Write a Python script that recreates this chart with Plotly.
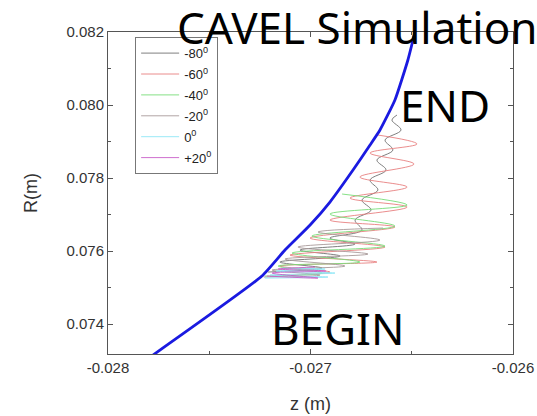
import plotly.graph_objects as go

# Blue boundary curve
blue_z = [-0.027778, -0.027240, -0.027126, -0.027002, -0.026904, -0.026790, -0.026706, -0.026657, -0.026583, -0.026519, -0.026484]
blue_R = [0.073150, 0.075315, 0.076027, 0.076712, 0.077342, 0.078219, 0.078904, 0.079315, 0.080137, 0.081233, 0.082000]

# Oscillating trajectories (turning points)
m80_z = [-0.027210, -0.026943, -0.027151, -0.026854, -0.027052, -0.026780, -0.026904, -0.026746, -0.026780, -0.026701,
         -0.026746, -0.026667, -0.026706, -0.026627, -0.026672, -0.026593, -0.026632, -0.026553, -0.026598, -0.026573]
m80_R = [0.075425, 0.075534, 0.075699, 0.075863, 0.076027, 0.076192, 0.076356, 0.076575, 0.076849, 0.077123,
         0.077397, 0.077671, 0.077945, 0.078219, 0.078493, 0.078767, 0.079041, 0.079315, 0.079589, 0.079726]

m60_z = [-0.027200, -0.026904, -0.027151, -0.026672, -0.027101, -0.026632, -0.027002, -0.026583, -0.026904,
         -0.026523, -0.026805, -0.026523, -0.026756, -0.026489, -0.026706, -0.026474, -0.026667]
m60_R = [0.075315, 0.075425, 0.075589, 0.075699, 0.075890, 0.076110, 0.076356, 0.076658, 0.076849,
         0.077205, 0.077452, 0.077753, 0.078027, 0.078384, 0.078685, 0.078932, 0.079178]

m40_z = [-0.027225, -0.026943, -0.027160, -0.026756, -0.027091, -0.026632, -0.026993, -0.026583, -0.026904, -0.026523, -0.026844]
m40_R = [0.075315, 0.075397, 0.075589, 0.075699, 0.075945, 0.076137, 0.076411, 0.076685, 0.077014, 0.077260, 0.077562]

m20_z = [-0.027230, -0.026953, -0.027190, -0.026830, -0.027126, -0.026716, -0.027062, -0.026657, -0.026963, -0.026642]
m20_R = [0.075288, 0.075342, 0.075479, 0.075589, 0.075781, 0.075918, 0.076110, 0.076301, 0.076521, 0.076630]

d0_z = [-0.027225, -0.026914, -0.027200, -0.026879, -0.027170, -0.026928, -0.027141]
d0_R = [0.075260, 0.075288, 0.075342, 0.075397, 0.075452, 0.075507, 0.075534]

p20_z = [-0.027215, -0.026963, -0.027190, -0.026923, -0.027160, -0.026978]
p20_R = [0.075315, 0.075260, 0.075397, 0.075452, 0.075507, 0.075562]

series = [
    ("-80<sup>0</sup>", m80_z, m80_R, "#707070"),
    ("-60<sup>0</sup>", m60_z, m60_R, "#e88080"),
    ("-40<sup>0</sup>", m40_z, m40_R, "#78dc78"),
    ("-20<sup>0</sup>", m20_z, m20_R, "#a89a9a"),
    ("0<sup>0</sup>", d0_z, d0_R, "#8ee6f6"),
    ("+20<sup>0</sup>", p20_z, p20_R, "#c860c8"),
]

x_ticks = [-0.028, -0.027, -0.026]
x_tick_text = ["-0.028", "-0.027", "-0.026"]
y_ticks = [0.074, 0.076, 0.078, 0.080, 0.082]
y_tick_text = ["0.074", "0.076", "0.078", "0.080", "0.082"]

fig = go.Figure()
for i, (name, z, r, c) in enumerate(series):
    fig.add_trace(go.Scatter(x=z, y=r, mode="lines", name=name, legendgroup=f"g{i}",
                             line=dict(color=c, width=0.9, shape="spline", smoothing=1.0)))
fig.add_trace(go.Scatter(x=blue_z, y=blue_R, mode="lines", showlegend=False,
                         line=dict(color="#1a1ae0", width=2.8, shape="spline", smoothing=0.45)))

tick_font = dict(family="Liberation Sans, Arial", size=15, color="#333333")
title_font = dict(family="Liberation Sans, Arial", size=18, color="#333333")
axis_common = dict(showline=True, linecolor="#555555", linewidth=1, mirror="ticks",
                   ticks="inside", ticklen=5, tickcolor="#555555", showgrid=False, zeroline=False,
                   tickfont=tick_font, automargin=False)

fig.update_layout(
    width=537, height=416,
    margin=dict(l=108, r=24, t=32, b=62, autoexpand=False),
    paper_bgcolor="white", plot_bgcolor="white",
    xaxis=dict(range=[-0.028, -0.026], tickvals=x_ticks, ticktext=x_tick_text,
               title=dict(text="z (m)", font=title_font, standoff=22),
               minor=dict(ticks="inside", ticklen=3, tickcolor="#555555", dtick=0.0005, tick0=-0.028, showgrid=False),
               **axis_common),
    yaxis=dict(range=[0.07318, 0.082], tickvals=y_ticks, ticktext=y_tick_text,
               title=dict(text="R(m)", font=title_font, standoff=24),
               minor=dict(ticks="inside", ticklen=3, tickcolor="#555555", dtick=0.001, tick0=0.073, showgrid=False),
               **axis_common),
    legend=dict(x=0.067, y=0.984, xanchor="left", yanchor="top",
                bordercolor="#777777", borderwidth=1, bgcolor="rgba(255,255,255,0)",
                font=dict(family="Liberation Sans, Arial", size=13, color="#222222"),
                itemwidth=38, tracegroupgap=1),
    showlegend=True,
)

ann_font = dict(family="Noto Sans, Open Sans", size=44, color="black")
fig.add_annotation(text="CAVEL Simulation", xref="paper", yref="paper", x=0.614, y=1.016,
                   showarrow=False, font=ann_font, xanchor="center", yanchor="middle")
fig.add_annotation(text="END", xref="paper", yref="paper", x=0.832, y=0.773,
                   showarrow=False, font=ann_font, xanchor="center", yanchor="middle")
fig.add_annotation(text="BEGIN", xref="paper", yref="paper", x=0.567, y=0.081,
                   showarrow=False, font=ann_font, xanchor="center", yanchor="middle")

fig.write_html("out.html")
